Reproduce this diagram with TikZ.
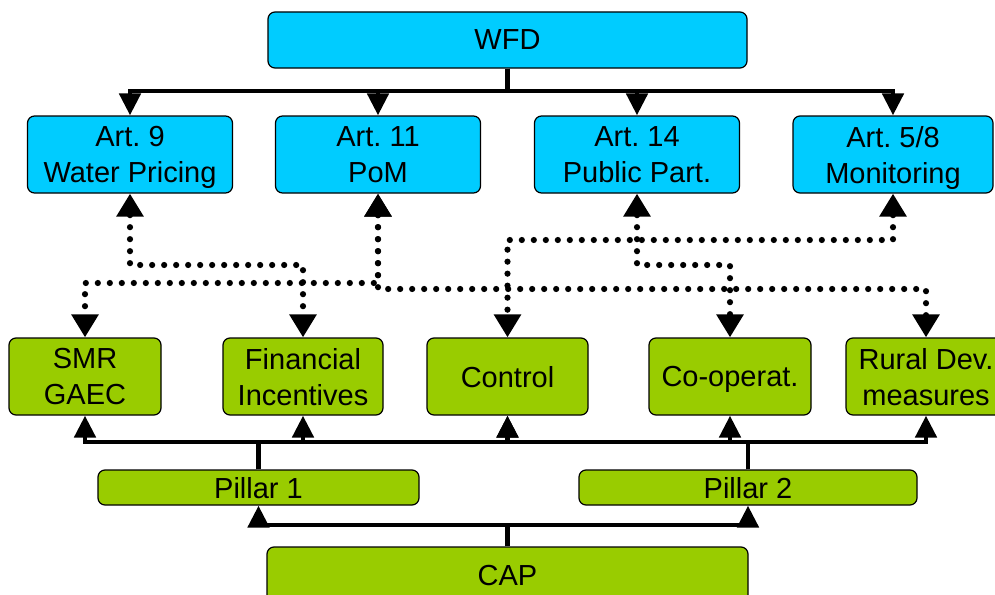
\documentclass[tikz,border=0pt]{standalone}
\usepackage{fontspec}
\setmainfont{Liberation Sans}
\usetikzlibrary{arrows.meta}
\definecolor{wfdblue}{RGB}{0,204,255}
\definecolor{capgreen}{RGB}{153,204,0}
\frenchspacing
\begin{document}
\begin{tikzpicture}[x=1pt,y=-1pt,
  box/.style={draw=black, line width=1.2pt, rounded corners=7pt, inner sep=0pt, align=center,
    text depth=0pt, font=\fontsize{29}{36}\selectfont\frenchspacing},
  bluebox/.style={box, fill=wfdblue},
  greenbox/.style={box, fill=capgreen},
  artbox/.style={bluebox, minimum width=205pt, minimum height=77pt},
  measbox/.style={greenbox, minimum height=77pt},
  solidc/.style={line width=4.8pt, -{Triangle[length=22pt,width=21pt]}},
  dotc/.style={line width=6.2pt, line cap=round, dash pattern=on 0pt off 12pt,
    {Triangle[length=23pt,width=26pt]}-{Triangle[length=23pt,width=26pt]}},
]
\useasboundingbox (0,0) rectangle (995,594);
% top level
\node[bluebox, minimum width=479pt, minimum height=56pt] (wfd) at (507.5,40) {WFD};
\node[artbox] (a9)  at (130,154.5) {Art. 9\\Water Pricing};
\node[artbox] (a11) at (378,154.5) {Art. 11\\PoM};
\node[artbox] (a14) at (637,154.5) {Art. 14\\Public Part.};
\node[artbox, minimum width=200pt] (a58) at (893,154.5) {Art. 5/8\\Monitoring};
% measures
\node[measbox, minimum width=152pt] (smr)   at (85,376.5)  {SMR\\GAEC};
\node[measbox, minimum width=160pt] (fin)   at (303,376.5) {Financial\\Incentives};
\node[measbox, minimum width=161pt] (ctrl)  at (507.5,376.5) {Control};
\node[measbox, minimum width=162pt] (coop)  at (730,376.5) {Co-operat.};
\node[measbox, minimum width=160pt] (rural) at (926,376.5) {Rural Dev.\\measures};
% pillars and CAP
\node[greenbox, minimum width=321pt, minimum height=35pt] (p1) at (258.5,487.5) {Pillar 1};
\node[greenbox, minimum width=338pt, minimum height=35pt] (p2) at (748,487.5) {Pillar 2};
\node[greenbox, minimum width=481pt, minimum height=56pt] (cap) at (507.5,575) {CAP};
% bar coordinates
\coordinate (tb) at (507.5,91);
\coordinate (gb) at (507.5,442);
\coordinate (cb) at (507.5,525);
% WFD tree
\foreach \t in {a9,a11,a14,a58}
  \draw[solidc] (wfd.south) -- (wfd.south |- tb) -| (\t.north);
% pillars to measures
\foreach \t in {smr,fin,ctrl}
  \draw[solidc] (p1.north) -- (p1.north |- gb) -| (\t.south);
\foreach \t in {ctrl,coop,rural}
  \draw[solidc] (p2.north) -- (p2.north |- gb) -| (\t.south);
% CAP to pillars
\foreach \t in {p1,p2}
  \draw[solidc] (cap.north) -- (cap.north |- cb) -| (\t.south);
% dotted links
\draw[dotc] (a9.south)  -- (a9.south |- 0,265)  -| (fin.north);
\draw[dotc] (a11.south) -- (a11.south |- 0,283) -| (smr.north);
\draw[dotc] (a11.south) -- (a11.south |- 0,289) -| (rural.north);
\draw[dotc] (a14.south) -- (a14.south |- 0,265) -| (coop.north);
\draw[dotc] (a58.south) -- (a58.south |- 0,240) -| (ctrl.north);
\end{tikzpicture}
\end{document}
